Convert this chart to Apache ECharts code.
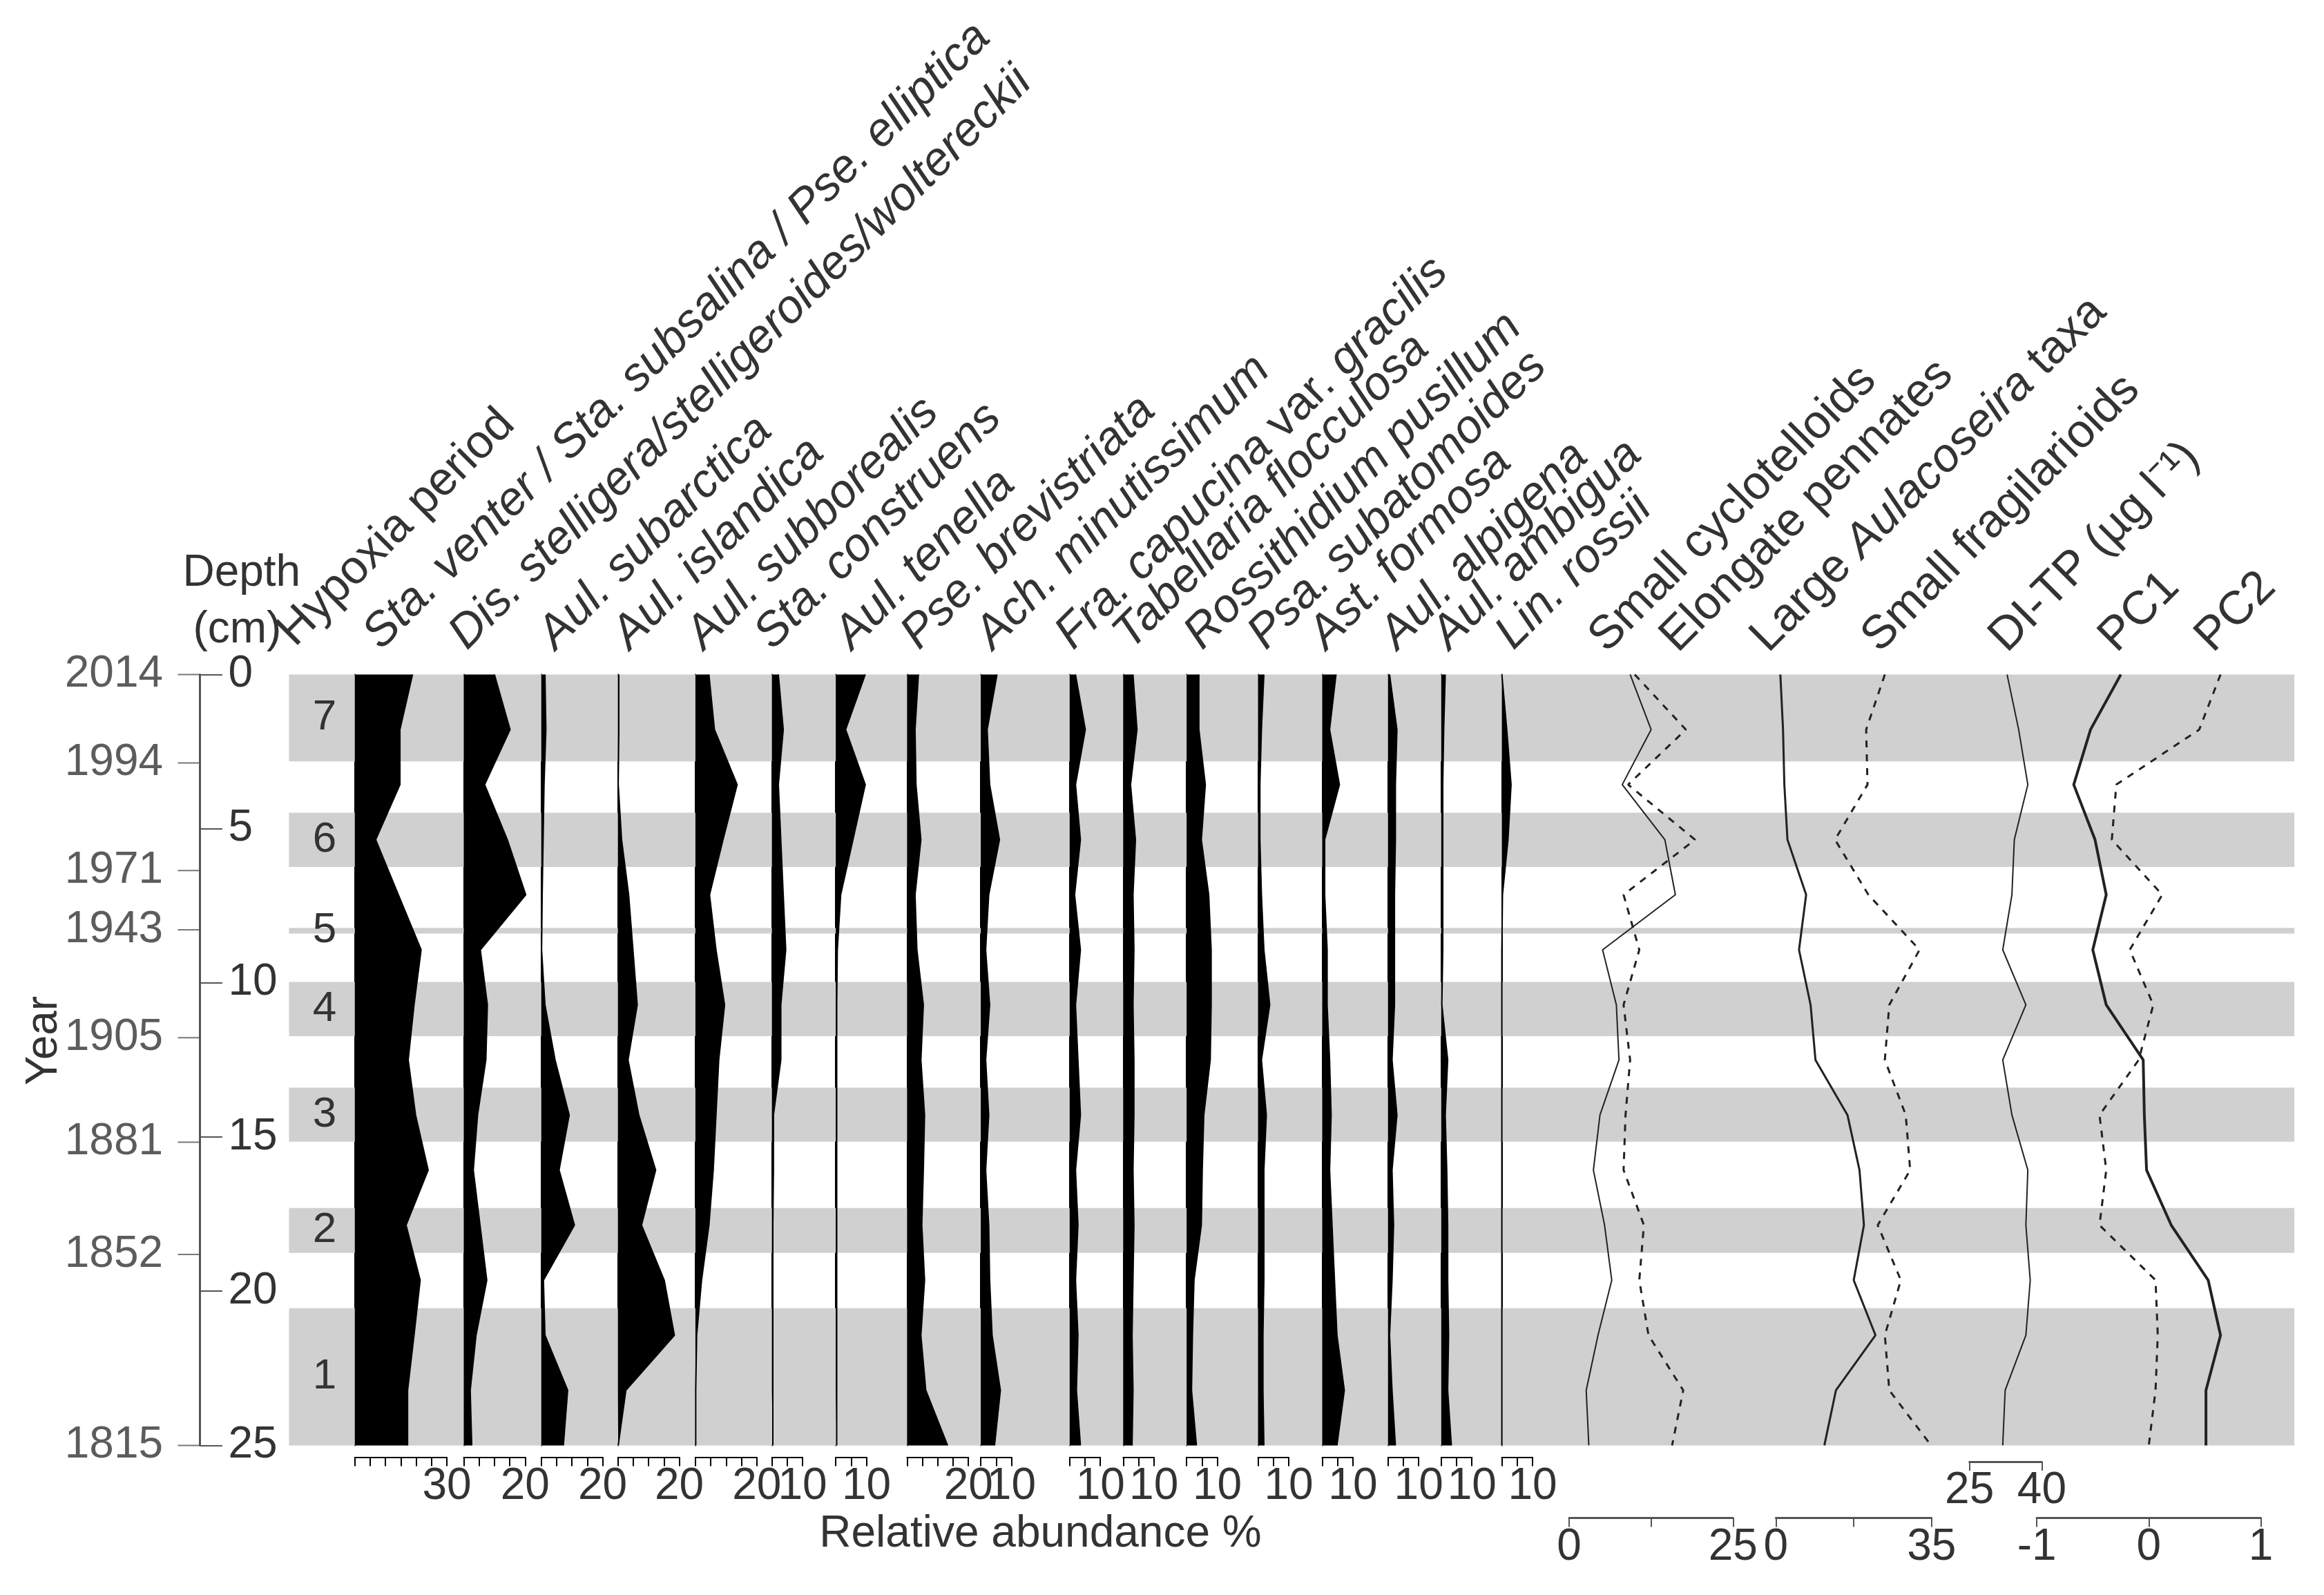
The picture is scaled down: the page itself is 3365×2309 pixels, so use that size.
<!DOCTYPE html>
<html><head><meta charset="utf-8">
<script src="https://cdn.jsdelivr.net/npm/echarts@6/dist/echarts.min.js"></script>
<style>html,body{margin:0;padding:0;background:#fff}#c{width:3365px;height:2309px}</style>
</head><body><div id="c"></div>
<script>
// ---------- DATA ----------
const depths = [0,1.79,3.57,5.36,7.14,8.93,10.71,12.5,14.29,16.07,17.86,19.64,21.43,23.21,25];
const taxaNames = ['Sta. venter / Sta. subsalina / Pse. elliptica','Dis. stelligera/stelligeroides/woltereckii','Aul. subarctica','Aul. islandica','Aul. subborealis','Sta. construens','Aul. tenella','Pse. brevistriata','Ach. minutissimum','{i|Fra. capucina} var. {i|gracilis}','Tabellaria flocculosa','Rossithidium pusillum','Psa. subatomoides','Ast. formosa','Aul. alpigena','Aul. ambigua','Lin. rossii'];
const taxaMax = [30,20,20,20,20,10,10,20,10,10,10,10,10,10,10,10,10];
const staVenter   = [18.8,14.7,14.7,6.8,14.2,21.6,19.3,17.4,19.8,23.9,16.7,21.3,19.3,17.2,17.2];
const disStell    = [10.0,15.1,6.8,14.2,20.2,5.4,7.7,7.2,4.5,3.1,5.3,7.5,4.0,2.1,2.6];
const aulSubarct  = [1.2,1.5,0.9,0.6,0.3,0.1,1.2,4.5,9.1,5.8,10.8,0.7,1.2,8.6,7.2];
const aulIsland   = [0.3,0.3,0.1,1.2,3.5,4.9,6.3,3.3,6.8,12.3,7.7,15.1,18.4,2.6,0.1];
const aulSubbor   = [4.4,6.2,13.6,9.0,4.6,6.7,9.5,7.6,6.7,5.8,4.4,2.0,0.4,0.1,0.1];
const staConstr   = [2.1,3.7,2.1,2.9,3.7,4.5,2.9,2.9,0.5,0.5,0.3,0.3,0.3,0.3,0.3];
const aulTenella  = [9.6,3.2,9.6,5.6,1.6,0.5,0.3,0.3,0.3,0.3,0.3,0.3,0.3,0.3,0.3];
const pseBrev     = [3.7,2.6,2.9,4.5,2.6,3.2,5.3,4.5,5.7,5.3,4.8,5.7,4.5,6.1,13.2];
const achMin      = [5.3,2.1,2.9,6.1,2.6,1.6,2.9,1.6,2.6,1.6,2.6,2.9,3.7,6.4,4.5];
const fraCap      = [1.9,5.1,1.9,3.5,1.6,3.5,1.9,2.7,3.5,1.9,2.7,1.9,2.7,2.2,3.5];
const tabFloc     = [3.2,4.5,2.4,4.0,3.2,3.5,3.2,3.5,3.5,3.2,3.5,3.2,2.9,3.2,2.9];
const rossPus     = [4.0,4.0,6.1,4.8,7.2,8.0,8.0,7.7,5.6,5.1,4.8,2.4,1.9,1.6,3.2];
const psaSub      = [1.9,1.1,0.6,0.6,1.1,1.9,3.8,1.1,2.7,1.9,1.9,1.9,1.6,1.6,1.9];
const astForm     = [4.5,2.4,5.6,0.8,0.8,1.6,1.6,2.4,2.9,2.4,3.2,4.0,4.8,7.2,4.8];
const aulAlp      = [0.5,2.9,2.4,2.4,2.1,2.1,2.1,1.3,2.9,1.3,1.8,1.3,0.5,1.3,2.4];
const aulAmb      = [1.3,0.8,0.5,0.5,0.5,0.5,0.2,2.1,1.3,1.8,2.1,2.1,2.4,2.1,3.3];
const linRos      = [0.0,1.6,3.0,2.0,0.2,0,0,0,0,0,0,0,0,0,0];
const taxaValues = [staVenter,disStell,aulSubarct,aulIsland,aulSubbor,staConstr,aulTenella,pseBrev,achMin,fraCap,tabFloc,rossPus,psaSub,astForm,aulAlp,aulAmb,linRos];

const cyclo    = [9.3,12.5,8.1,14.6,16.2,5.1,7.2,7.6,4.7,3.7,5.4,6.5,4.4,2.6,3.0];
const pennates = [10.0,17.8,9.0,19.2,8.3,10.7,8.3,9.3,8.6,8.3,11.4,10.7,12.1,17.4,15.7];
const largeAul = [1.0,1.6,1.9,2.6,6.8,5.2,7.8,8.9,16.1,18.8,19.8,17.5,22.4,13.5,10.9];
const fragil   = [24.5,20.3,20.6,13.3,20.8,32.3,25.5,24.5,29.2,30.2,22.9,28.1,24.5,25.5,34.9];
const ditp     = [32.8,35.2,37.1,34.3,33.8,31.9,36.7,31.9,33.8,37.1,36.7,37.6,36.7,32.4,31.9];
const pc1      = [-0.25,-0.52,-0.67,-0.48,-0.38,-0.50,-0.38,-0.05,-0.04,-0.02,0.20,0.53,0.64,0.51,0.51];
const pc2      = [0.64,0.45,-0.29,-0.33,0.12,-0.17,0.04,-0.09,-0.44,-0.38,-0.44,0.06,0.08,0.06,0.0];

const bands = [[0,2.82,'7'],[4.48,6.24,'6'],[8.22,8.40,'5'],[9.97,11.73,'4'],[13.4,15.15,'3'],[17.3,18.76,'2'],[20.55,25,'1']];
const yearLabels = ['2014','1994','1971','1943','1905','1881','1852','1815'];
const yearDepths = [0,2.87,6.36,8.28,11.78,15.17,18.81,25];

// ---------- LAYOUT ----------
const S = 3365/1568;
const P = v => v*S;
const TOP = P(455), H = P(520);
const FONT = 'Liberation Sans, Arial, sans-serif';
const TXT = '#333';
const TF = 68;   // title font
const LF = 64;   // label font
const taxaBase = [239.4,312.9,365.2,416.9,469.2,520.8,563.9,612.0,661.7,721.7,757.8,800.6,848.8,892.1,936.5,972.4,1013.3];
const PXPCT = 2.07;
const titleX = [262,320,380,430,480,526,580,625,675,729,768,816,859,900,948,983,1026];

const grid=[], xAxis=[], yAxis=[], series=[], graphic=[];
const depthCats = depths.map(String);

function addGrid(left,width){ grid.push({left:P(left),top:TOP,width:P(width),height:H}); return grid.length-1; }

// band grid
let g = addGrid(195,1353);
xAxis.push({gridIndex:g,type:'value',min:0,max:1,show:false});
yAxis.push({gridIndex:g,type:'value',min:0,max:25,inverse:true,show:false});
series.push({type:'line',xAxisIndex:g,yAxisIndex:g,data:[],z:0,
  markArea:{silent:true,itemStyle:{color:'#d0d0d0'},
    label:{show:true,position:'insideLeft',distance:P(16),color:TXT,fontSize:62,fontFamily:FONT},
    data:bands.map(b=>[{yAxis:b[0],name:b[2]},{yAxis:b[1]}])}});

// depth / year axis grid
g = addGrid(135,1);
xAxis.push({gridIndex:g,type:'value',min:0,max:1,show:false});
yAxis.push({gridIndex:g,type:'value',min:0,max:25,interval:5,inverse:true,
  axisLine:{show:true,lineStyle:{color:'#555',width:3}},
  axisTick:{show:true,inside:true,length:P(15),lineStyle:{color:'#555',width:2}},
  axisLabel:{inside:true,margin:P(19),color:TXT,fontSize:LF,fontFamily:FONT},splitLine:{show:false}});
series.push({type:'scatter',xAxisIndex:g,yAxisIndex:g,
  data:yearDepths.map((d,i)=>({value:[0,d],name:yearLabels[i]})),
  symbol:'rect',symbolSize:[P(15),2],symbolOffset:[-P(7.5),0],itemStyle:{color:'#555'},
  label:{show:true,position:'left',distance:P(10),formatter:p=>p.name,color:TXT,fontSize:LF,fontFamily:FONT}});

// taxa silhouettes
taxaValues.forEach((vals,i)=>{
  const M = taxaMax[i];
  const gi = addGrid(taxaBase[i], M*PXPCT);
  const ticks=[]; for(let t=0;t<=M;t+=5) ticks.push(t);
  xAxis.push({gridIndex:gi,type:'value',min:0,max:M,position:'bottom',offset:P(8),
    axisLine:{show:true,lineStyle:{color:'#000',width:2}},
    axisTick:{show:true,length:P(6),customValues:ticks,lineStyle:{color:'#000',width:2}},
    axisLabel:{show:true,customValues:[M],margin:P(5),color:TXT,fontSize:LF,fontFamily:FONT},
    splitLine:{show:false}});
  yAxis.push({gridIndex:gi,type:'category',data:depthCats,inverse:true,boundaryGap:false,
    axisLine:{show:true,lineStyle:{color:'#000',width:2}},axisTick:{show:false},axisLabel:{show:false}});
  series.push({type:'line',xAxisIndex:gi,yAxisIndex:gi,data:vals,symbol:'none',clip:false,z:3,
    lineStyle:{color:'#000',width:2},areaStyle:{color:'#000',opacity:1}});
  const italic = i!==9;
  graphic.push({type:'text',x:P(titleX[i]),y:P(444),rotation:Math.PI/4,z:10,
    style:{text:taxaNames[i],fill:TXT,fontStyle:italic?'italic':'normal',fontSize:TF,fontFamily:FONT,
      align:'left',verticalAlign:'bottom',rich:{i:{fontStyle:'italic',fontSize:TF,fontFamily:FONT,fill:TXT}}}});
});

// line panels
const linePanels = [
  {left:1058.7,width:110.6,min:0,max:25,ticks:[0,12.5,25],labels:[0,25],offset:49,
   lines:[{d:cyclo,w:2,dash:'solid'},{d:pennates,w:3,dash:[10,10]}]},
  {left:1198.2,width:105,min:0,max:35,ticks:[0,17.5,35],labels:[0,35],offset:49,
   lines:[{d:largeAul,w:3,dash:'solid'},{d:fragil,w:3,dash:[10,10]}]},
  {left:1328.8,width:48.8,min:25,max:40,ticks:[25,40],labels:[25,40],offset:11,
   lines:[{d:ditp,w:2,dash:'solid'}]},
  {left:1374.2,width:151.2,min:-1,max:1,ticks:[-1,0,1],labels:[-1,0,1],offset:49,
   lines:[{d:pc1,w:4,dash:'solid'},{d:pc2,w:3,dash:[10,10]}]}
];
linePanels.forEach(lp=>{
  const gi = addGrid(lp.left,lp.width);
  xAxis.push({gridIndex:gi,type:'value',min:lp.min,max:lp.max,position:'bottom',offset:P(lp.offset),
    axisLine:{show:true,lineStyle:{color:'#555',width:3}},
    axisTick:{show:true,length:P(6),customValues:lp.ticks,lineStyle:{color:'#555',width:2}},
    axisLabel:{show:true,customValues:lp.labels,margin:P(5),color:TXT,fontSize:LF,fontFamily:FONT},
    splitLine:{show:false}});
  yAxis.push({gridIndex:gi,type:'category',data:depthCats,inverse:true,boundaryGap:false,show:false});
  lp.lines.forEach(l=>series.push({type:'line',xAxisIndex:gi,yAxisIndex:gi,data:l.d,symbol:'none',clip:false,z:3,
    lineStyle:{color:'#222',width:l.w,type:l.dash}}));
});

// other titles
const rot = (text,x,y)=>graphic.push({type:'text',x:P(x),y:P(y),rotation:Math.PI/4,z:10,
  style:{text,fill:TXT,fontSize:TF,fontFamily:FONT,align:'left',verticalAlign:'bottom',
    rich:{i:{fontStyle:'italic',fontSize:TF,fontFamily:FONT,fill:TXT}}}});
rot('Hypoxia period',204,442);
[['Small cyclotelloids',1089],['Elongate pennates',1137],['Large {i|Aulacoseira} taxa',1198],['Small fragilarioids',1273],['DI-TP (µg l⁻¹)',1359],['PC1',1433],['PC2',1498]]
  .forEach(t=>rot(t[0],t[1],446));
const plain = (text,x,y,al)=>graphic.push({type:'text',x:P(x),y:P(y),z:10,
  style:{text,fill:TXT,fontSize:LF,fontFamily:FONT,align:al||'center',verticalAlign:'bottom'}});
plain('Depth',163,402);
plain('(cm)',160,440);
graphic.push({type:'text',x:P(30),y:P(702),rotation:Math.PI/2,z:10,
  style:{text:'Year',fill:TXT,fontSize:LF,fontFamily:FONT,align:'center',verticalAlign:'middle'}});
plain('Relative abundance %',702,1050);

const chart = echarts.init(document.getElementById('c'),null,{renderer:'canvas'});
chart.setOption({animation:false,backgroundColor:'#fff',grid,xAxis,yAxis,series,graphic});
</script></body></html>
